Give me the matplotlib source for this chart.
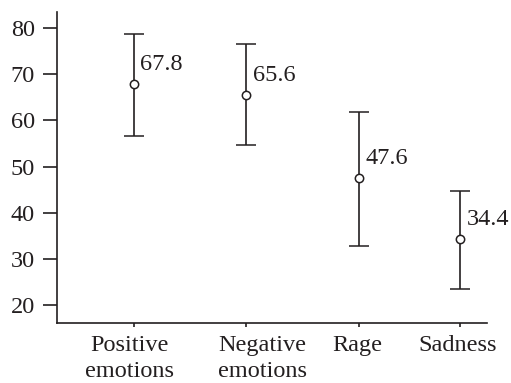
import matplotlib
matplotlib.use("Agg")
import matplotlib.pyplot as plt
import matplotlib.transforms as mtransforms

# data
categories = ["Positive\nemotions", "Negative\nemotions", "Rage", "Sadness"]
means = [67.8, 65.6, 47.6, 34.4]
upper = [78.8, 76.5, 61.8, 44.6]
lower = [56.6, 54.6, 32.7, 23.5]
yticks = [20, 30, 40, 50, 60, 70, 80]

# layout: category positions on the x axis (slightly uneven in the source)
xpos = [0, 1, 2, 2.9]
# horizontal nudges (points) of the category labels, as in the source
label_shift = [-3, 11.5, -1.5, -2]

ink = "#231f20"
fs = 17.5
plt.rcParams["font.family"] = "serif"
plt.rcParams["font.serif"] = ["Liberation Serif"]

fig = plt.figure(figsize=(5.11, 3.83), dpi=100)
ax = fig.add_axes([0.1115, 0.157, 0.8415, 0.812])

yerr = [[m - lo for m, lo in zip(means, lower)],
        [up - m for m, up in zip(means, upper)]]
ax.errorbar(xpos, means, yerr=yerr, fmt="o", color=ink, ecolor=ink,
            elinewidth=1.2, capsize=7.5, capthick=1.2,
            markersize=6, markerfacecolor="white", markeredgecolor=ink,
            markeredgewidth=1.1)

for x, m in zip(xpos, means):
    ax.annotate(f"{m:.1f}", xy=(x, m), xytext=(4.5, 14), textcoords="offset points",
                ha="left", va="center", fontsize=fs, color=ink,
                family="Liberation Serif")

ax.set_xlim(-0.684, 3.138)
ax.set_ylim(16.15, 83.5)
ax.set_yticks(yticks)
ax.set_xticks(xpos)
ax.set_xticklabels(categories, fontsize=fs, color=ink, linespacing=1.3,
                   family="Liberation Serif")
ax.set_yticklabels([str(t) for t in yticks], fontsize=fs, color=ink,
                   family="Liberation Serif")
ax.tick_params(axis="y", direction="out", length=10, width=1.2, pad=6,
               colors=ink)
ax.tick_params(axis="x", direction="out", length=3, width=1.2, pad=6,
               colors=ink)

for lab, dx in zip(ax.get_xticklabels(), label_shift):
    lab.set_transform(lab.get_transform() +
                      mtransforms.ScaledTranslation(dx / 72, 0, fig.dpi_scale_trans))

for side in ["top", "right"]:
    ax.spines[side].set_visible(False)
for side in ["left", "bottom"]:
    ax.spines[side].set_color(ink)
    ax.spines[side].set_linewidth(1.2)

fig.savefig("out.png", dpi=100)
